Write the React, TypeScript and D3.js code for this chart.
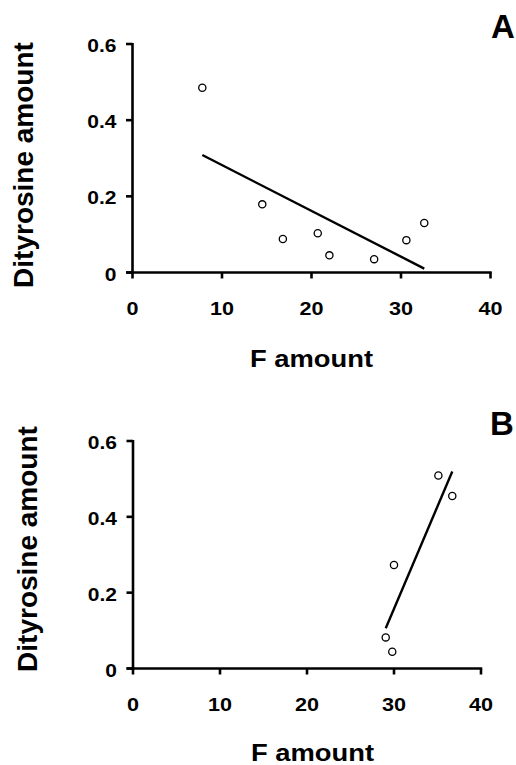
import React from "react";
import * as d3 from "d3";

const xTicks = [0, 10, 20, 30, 40];
const yTicks = [0, 0.2, 0.4, 0.6];
const yTickLabels = ["0", "0.2", "0.4", "0.6"];

const panelAx = [7.8, 14.5, 16.8, 20.7, 22.0, 27.0, 30.6, 32.6];
const panelAy = [0.485, 0.179, 0.088, 0.103, 0.045, 0.035, 0.085, 0.13];
const panelBx = [35.1, 36.7, 30.0, 29.05, 29.8];
const panelBy = [0.509, 0.455, 0.273, 0.082, 0.044];

const FONT = "'Liberation Sans', Arial, Helvetica, sans-serif";

function fit(xs: number[], ys: number[]) {
  const mx = d3.mean(xs)!;
  const my = d3.mean(ys)!;
  let sxy = 0, sxx = 0;
  xs.forEach((x, i) => { sxy += (x - mx) * (ys[i] - my); sxx += (x - mx) * (x - mx); });
  const b = sxy / sxx;
  const a = my - b * mx;
  const [x0, x1] = d3.extent(xs) as [number, number];
  return [[x0, a + b * x0], [x1, a + b * x1]];
}

type PanelProps = {
  xs: number[]; ys: number[]; letter: string;
  xr: [number, number]; yr: [number, number];
  xTitleX: number; xTitleY: number; yTitleX: number; yTitleY: number;
  letterX: number; letterY: number;
};

function Panel(p: PanelProps) {
  const x = d3.scaleLinear().domain([0, 40]).range(p.xr);
  const y = d3.scaleLinear().domain([0, 0.6]).range(p.yr);
  const line = d3.line<number[]>().x(d => x(d[0])).y(d => y(d[1]));
  const f = fit(p.xs, p.ys);
  const sw = 2.6;
  return (
    <g fontFamily={FONT} fontWeight="bold" fill="#000">
      <line x1={x(0)} x2={x(0)} y1={y(0.6) - 1} y2={y(0) + sw / 2} stroke="#000" strokeWidth={sw} />
      <line x1={x(0) - 6.5} x2={x(40) + 1.2} y1={y(0)} y2={y(0)} stroke="#000" strokeWidth={sw} />
      {yTicks.map((t, i) => (
        <g key={"y" + i}>
          <line x1={x(0) - 6.5} x2={x(0)} y1={y(t)} y2={y(t)} stroke="#000" strokeWidth={sw} />
          <text transform={`translate(${x(0) - 16},${y(t) + 8}) scale(1.2,1)`} textAnchor="end" fontSize={17.5}>
            {yTickLabels[i]}
          </text>
        </g>
      ))}
      {xTicks.map((t, i) => (
        <g key={"x" + i}>
          <line x1={x(t)} x2={x(t)} y1={y(0)} y2={y(0) + 6} stroke="#000" strokeWidth={sw} />
          <text transform={`translate(${x(t)},${y(0) + 42.5}) scale(1.2,1)`} textAnchor="middle" fontSize={18}>
            {String(t)}
          </text>
        </g>
      ))}
      <path d={line(f) || ""} stroke="#000" strokeWidth={2.4} fill="none" />
      {p.xs.map((v, i) => (
        <circle key={"p" + i} cx={x(v)} cy={y(p.ys[i])} r={3.6} fill="#fff" stroke="#000" strokeWidth={1.3} />
      ))}
      <text transform={`translate(${p.xTitleX},${p.xTitleY}) scale(1.19,1)`} textAnchor="middle" fontSize={23}>
        F amount
      </text>
      <text transform={`translate(${p.yTitleX},${p.yTitleY}) rotate(-90)`} textAnchor="middle" fontSize={28}>
        Dityrosine amount
      </text>
      <text x={p.letterX} y={p.letterY} textAnchor="middle" fontSize={33}>
        {p.letter}
      </text>
    </g>
  );
}

export default function App() {
  return (
    <svg width={516} height={765} style={{ position: "absolute", left: 0, top: 0, background: "#fff" }}>
      <rect width={516} height={765} fill="#fff" />
      <Panel xs={panelAx} ys={panelAy} letter="A" xr={[132.5, 490.5]} yr={[272.5, 44]}
        xTitleX={311.5} xTitleY={366.5} yTitleX={33.3} yTitleY={165} letterX={503} letterY={38.3} />
      <Panel xs={panelBx} ys={panelBy} letter="B" xr={[133, 481]} yr={[668.5, 441]}
        xTitleX={312.5} xTitleY={760.5} yTitleX={36.7} yTitleY={549} letterX={502} letterY={435} />
    </svg>
  );
}
